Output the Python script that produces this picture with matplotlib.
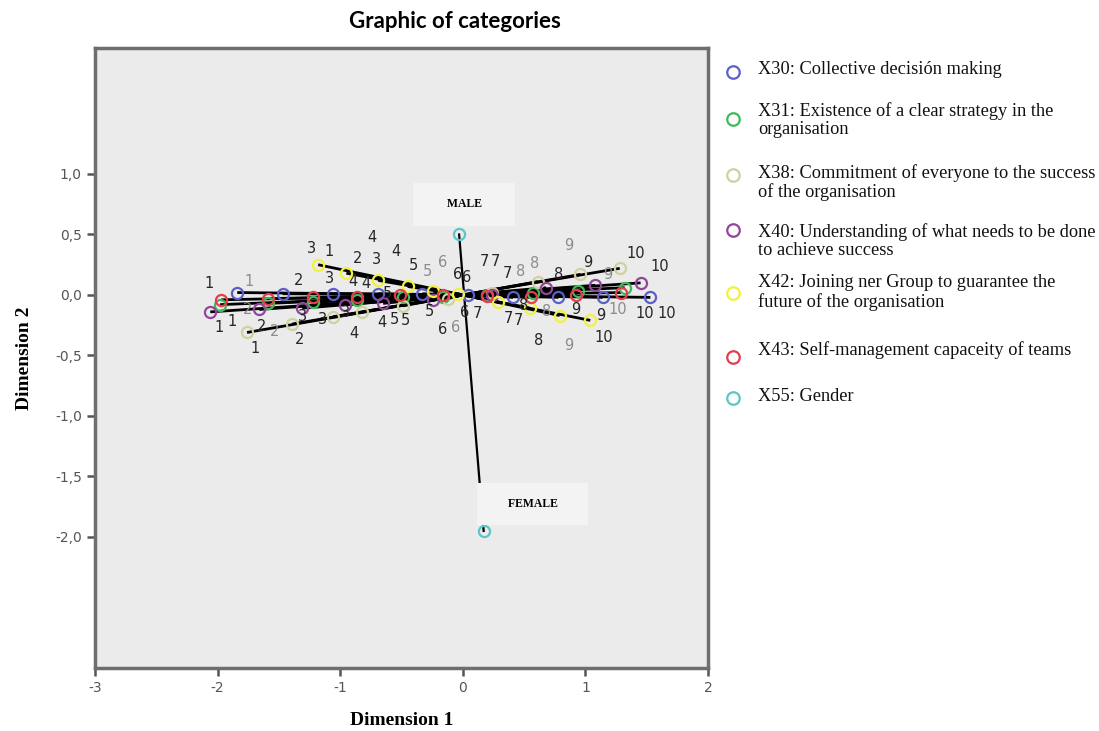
"""
Category plot (SPSS-style) with category points joined to the centroid
"""

import matplotlib
matplotlib.use('Agg')
import matplotlib.pyplot as plt
from matplotlib.lines import Line2D

# category coordinates (dimension 1, dimension 2), categories 1..10
X30_X = [-1.84, -1.47, -1.06, -0.69, -0.33, 0.04, 0.41, 0.78, 1.14, 1.53]
X30_Y = [0.02, 0.01, 0.01, 0.01, 0.01, 0.00, -0.02, -0.02, -0.02, -0.02]
X31_X = [-1.98, -1.59, -1.22, -0.86, -0.49, -0.16, 0.20, 0.57, 0.94, 1.32]
X31_Y = [-0.08, -0.07, -0.06, -0.04, -0.02, -0.02, 0.00, 0.02, 0.03, 0.06]
X38_X = [-1.76, -1.39, -1.06, -0.82, -0.49, -0.12, 0.24, 0.61, 0.96, 1.28]
X38_Y = [-0.31, -0.24, -0.18, -0.14, -0.09, -0.03, 0.02, 0.11, 0.17, 0.22]
X40_X = [-2.06, -1.66, -1.31, -0.96, -0.65, -0.24, 0.24, 0.68, 1.08, 1.45]
X40_Y = [-0.14, -0.12, -0.11, -0.08, -0.07, -0.04, 0.00, 0.06, 0.08, 0.10]
X42_X = [-1.18, -0.95, -0.69, -0.45, -0.24, -0.04, 0.29, 0.55, 0.79, 1.04]
X42_Y = [0.25, 0.18, 0.12, 0.07, 0.03, 0.01, -0.06, -0.11, -0.17, -0.21]
X43_X = [-1.97, -1.59, -1.22, -0.86, -0.51, -0.16, 0.20, 0.56, 0.92, 1.29]
X43_Y = [-0.04, -0.03, -0.02, -0.02, 0.00, 0.00, -0.01, -0.02, 0.00, 0.02]
CATS = ['1', '2', '3', '4', '5', '6', '7', '8', '9', '10']

X55_X = [-0.03, 0.17]
X55_Y = [0.50, -1.95]
X55_CATS = ['MALE', 'FEMALE']

LEGEND = [
    "X30: Collective decisión making",
    "X31: Existence of a clear strategy in the\norganisation",
    "X38: Commitment of everyone to the success\nof the organisation",
    "X40: Understanding of what needs to be done\nto achieve success",
    "X42: Joining ner Group to guarantee the\nfuture of the organisation",
    "X43: Self-management capaceity of teams",
    "X55: Gender",
]
X_TICKS = [-3, -2, -1, 0, 1, 2]
Y_TICKS = [1.0, 0.5, 0.0, -0.5, -1.0, -1.5, -2.0]
Y_TICK_LABELS = ['1,0', '0,5', '0,0', '-0,5', '-1,0', '-1,5', '-2,0']

COLORS = ['#5b5fc7', '#3cba54', '#d0d0a0', '#94449c', '#f2f23c', '#e43d4e', '#5cc6c6']

# label offsets in pixels (dx, dy up) to mimic SPSS label placement
OFFSETS = {
    'X30': [(12, 11), (16, 13), (-3, 15), (-25, 12), (5, 22), (-10, 20), (5, -23), (-20, -43), (-2, -18), (16, -16)],
    'X31': [(12, -17), (7, -28), (32, -10), (25, -23), (27, -14), (12, -30), (-3, 33), (-12, 21), (10, 29), (-7, -22)],
    'X38': [(8, -16), (7, -16), (-10, -3), (-8, -22), (-8, -14), (-5, -31), (15, 19), (-3, 18), (-12, 29), (16, 15)],
    'X40': [(9, -16), (2, -17), (0, -8), (21, 21), (22, -17), (31, -13), (3, 33), (12, 13), (13, 11), (19, 16)],
    'X42': [(11, 13), (11, 15), (-2, 21), (-12, 35), (-20, 26), (-15, 31), (10, -16), (16, -3), (9, -30), (13, -17)],
    'X43': [(-12, 16), (-20, -11), (-2, 49), (15, 60), (-13, 1), (23, 17), (-10, -17), (-8, -8), (0, -15), (24, -21)],
}
GRAY_LABELS = {('X30', 0), ('X30', 4), ('X31', 1), ('X31', 5), ('X31', 7), ('X31', 9),
               ('X38', 7), ('X38', 8), ('X40', 8), ('X42', 5), ('X42', 7), ('X42', 8), ('X43', 1)}

SERIES = [
    ('X30', X30_X, X30_Y),
    ('X31', X31_X, X31_Y),
    ('X38', X38_X, X38_Y),
    ('X40', X40_X, X40_Y),
    ('X42', X42_X, X42_Y),
    ('X43', X43_X, X43_Y),
]


def main():
    fig = plt.figure(figsize=(10.99, 7.31), dpi=100)
    ax = fig.add_axes([95 / 1099, 1 - 668 / 731, 613 / 1099, 620 / 731])
    ax.set_facecolor('#ebebeb')

    # lines from the centroid to every category point
    for name, xs, ys in SERIES:
        for x, y in zip(xs, ys):
            ax.plot([0, x], [0, y], color='black', lw=2.0, zorder=2, solid_capstyle='butt')
    ax.plot(X55_X, X55_Y, color='black', lw=1.6, zorder=2)

    for i, (name, xs, ys) in enumerate(SERIES):
        ax.plot(xs, ys, ls='none', marker='o', ms=8, mfc='none', mec=COLORS[i], mew=1.6, zorder=3)
        for j, (x, y) in enumerate(zip(xs, ys)):
            dx, dy = OFFSETS[name][j]
            col = '#8c8c8c' if (name, j) in GRAY_LABELS else '#262626'
            ax.annotate(CATS[j], (x, y), xytext=(dx, dy), textcoords='offset pixels',
                        ha='center', va='center', fontsize=10.5, color=col, zorder=4)

    ax.plot(X55_X, X55_Y, ls='none', marker='o', ms=8, mfc='none', mec=COLORS[6], mew=1.6, zorder=3)

    # boxed gender labels
    box = dict(boxstyle='square,pad=1.3', fc='#f3f3f3', ec='none')
    ax.annotate('      ' + X55_CATS[0] + '      ', (X55_X[0], X55_Y[0]), xytext=(5, 30),
                textcoords='offset pixels', ha='center', va='center', fontsize=8.5,
                fontweight='bold', family='Liberation Serif', bbox=box, zorder=4)
    ax.annotate('     ' + X55_CATS[1] + '     ', (X55_X[1], X55_Y[1]), xytext=(49, 27),
                textcoords='offset pixels', ha='center', va='center', fontsize=8.5,
                fontweight='bold', family='Liberation Serif', bbox=box, zorder=4)

    ax.set_xlim(-3, 2)
    ax.set_ylim(-3.083, 2.041)
    ax.set_xticks(X_TICKS)
    ax.set_xticklabels([str(t) for t in X_TICKS])
    ax.set_yticks(Y_TICKS)
    ax.set_yticklabels(Y_TICK_LABELS)
    ax.tick_params(direction='out', length=6, width=1.8, color='#555555',
                   labelcolor='#555555', labelsize=10)
    for sp in ax.spines.values():
        sp.set_color('#6e6e6e')
        sp.set_linewidth(2.5)

    ax.set_xlabel('Dimension 1', family='Liberation Serif', fontweight='bold', fontsize=14, labelpad=12)
    ax.set_ylabel('Dimension 2', family='Liberation Serif', fontweight='bold', fontsize=14, labelpad=16)

    fig.text(455 / 1099, 1 - 22 / 731, 'Graphic of categories', ha='center', va='center',
             family='Lato', fontweight='bold', fontsize=16)

    # legend drawn by hand at the right
    marker_y = [72, 119, 175, 230, 293, 357, 398]
    text_y = [72, 113, 175, 234, 285, 352, 399]
    for i, label in enumerate(LEGEND):
        fig.add_artist(Line2D([733 / 1099], [1 - marker_y[i] / 731], marker='o', ms=9, mfc='none',
                              mec=COLORS[i], mew=1.6, ls='none'))
        fig.text(758 / 1099, 1 - (text_y[i] - 11) / 731, label, ha='left', va='top',
                 family='Liberation Serif', fontsize=13.2, linespacing=1.12, color='#111111')

    fig.savefig('out.png', dpi=100)
    plt.close(fig)


if __name__ == "__main__":
    main()
